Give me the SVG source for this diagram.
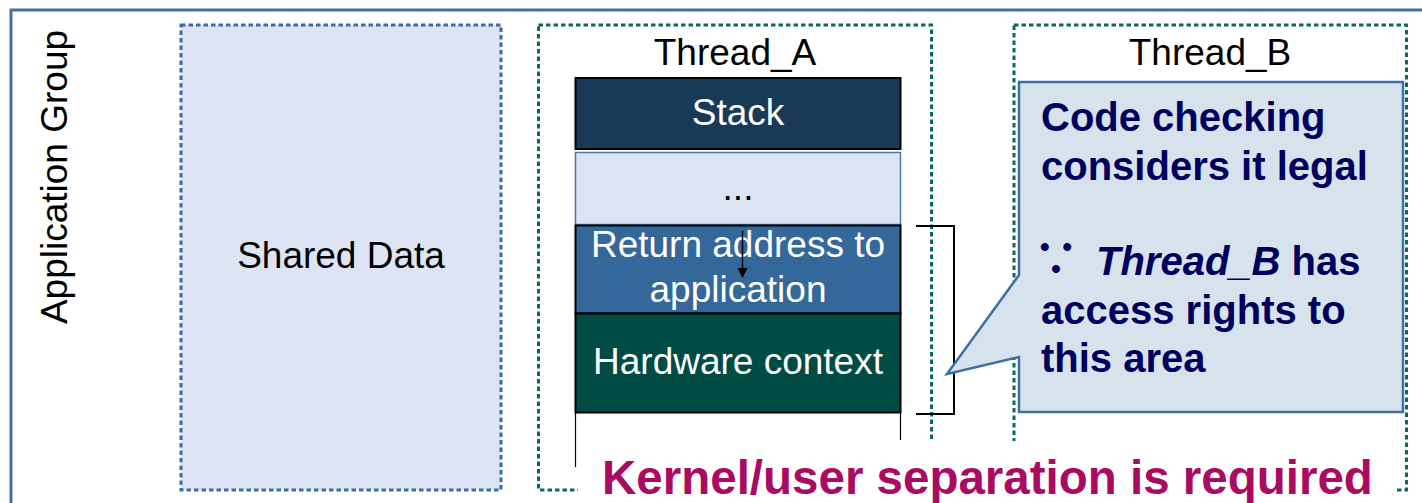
<svg xmlns="http://www.w3.org/2000/svg" width="1422" height="503" viewBox="0 0 1422 503">
<style>
text{font-family:"Liberation Sans",Arial,sans-serif}
.lbl{font-size:37px;fill:#000}
.wt{font-size:37px;fill:#fff;text-anchor:middle}
.call{font-size:40px;font-weight:bold;fill:#00005F}
.tdash{fill:none;stroke:#0A6862;stroke-width:3;stroke-dasharray:4.5 3}
</style>
<defs>
<marker id="ah" viewBox="0 0 10 10" refX="9" refY="5" markerWidth="10" markerHeight="10" markerUnits="userSpaceOnUse" orient="auto">
<path d="M0,0 L10,5 L0,10 z" fill="#000"/>
</marker>
</defs>
<rect width="1422" height="503" fill="#fff"/>
<g id="app-group">
<rect x="11" y="10" width="1500" height="600" fill="none" stroke="#3F70A6" stroke-width="3"/>
<text class="lbl" transform="translate(67,177) rotate(-90)" text-anchor="middle">Application Group</text>
</g>
<g id="shared-data">
<rect x="181" y="25" width="320" height="465" fill="#DDE4F3" stroke="#3A6DA3" stroke-width="3" stroke-dasharray="4.5 3"/>
<text class="lbl" x="341" y="268" text-anchor="middle">Shared Data</text>
</g>
<g id="thread-a">
<rect class="tdash" x="538.5" y="25" width="393" height="465"/>
<text class="lbl" x="735" y="65" text-anchor="middle">Thread_A</text>
</g>
<g id="thread-b">
<rect class="tdash" x="1014" y="25" width="392.5" height="465"/>
<text class="lbl" x="1210" y="65" text-anchor="middle">Thread_B</text>
</g>
<g id="stack">
<rect x="575.5" y="78" width="325" height="71" fill="#183A58" stroke="#000" stroke-width="2"/>
<text class="wt" x="738" y="125">Stack</text>
</g>
<g id="ellipsis">
<rect x="575.5" y="152.5" width="325" height="72" fill="#DCE4F3" stroke="#4A78AC" stroke-width="1.5"/>
<text x="738" y="200" font-size="37" text-anchor="middle" fill="#000">...</text>
</g>
<g id="return-address">
<rect x="575.5" y="225.5" width="325" height="88" fill="#35689A" stroke="#000" stroke-width="2"/>
<text class="wt" x="738" y="257">Return address to</text>
<text class="wt" x="738" y="302">application</text>
</g>
<g id="hardware-context">
<rect x="575.5" y="313.5" width="325" height="99" fill="#004C45" stroke="#000" stroke-width="2"/>
<text class="wt" x="738" y="374">Hardware context</text>
</g>
<g id="stack-rest">
<line x1="575.5" y1="413" x2="575.5" y2="467" stroke="#000" stroke-width="1.2"/>
<line x1="900.5" y1="413" x2="900.5" y2="440" stroke="#000" stroke-width="1.2"/>
</g>
<g id="connectors">
<line x1="742.5" y1="231" x2="742.5" y2="277" stroke="#000" stroke-width="1.5" marker-end="url(#ah)"/>
<path d="M916,226 H954 V414 H916" fill="none" stroke="#000" stroke-width="2"/>
</g>
<g id="callout">
<path d="M1019,82 H1403 V412 H1019 V357 L947,374 L1019,275 Z" fill="#D7E3EC" stroke="#3D6FA5" stroke-width="2.5" stroke-linejoin="miter"/>
<text class="call" x="1041" y="131">Code checking</text>
<text class="call" x="1041" y="180">considers it legal</text>
<text class="call" y="275"><tspan x="1033" font-family="'Noto Sans CJK SC',sans-serif" font-weight="bold" font-size="46">∵</tspan><tspan x="1096" font-style="italic">Thread_B</tspan> has</text>
<text class="call" x="1041" y="324">access rights to</text>
<text class="call" x="1041" y="372">this area</text>
</g>
<g id="kernel-note">
<rect x="578" y="441" width="819" height="62" fill="#fff"/>
<text x="602" y="494" font-size="47.5" font-weight="bold" fill="#AA0A62">Kernel/user separation is required</text>
</g>
</svg>
